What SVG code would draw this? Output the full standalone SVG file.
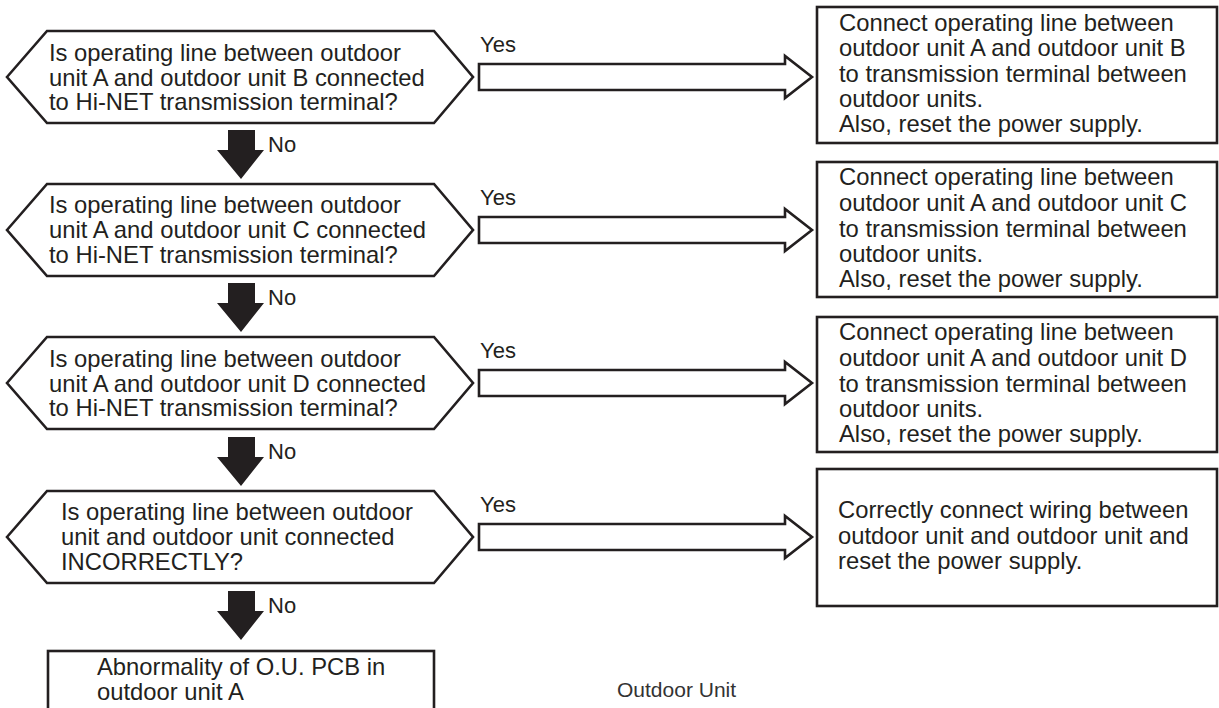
<svg xmlns="http://www.w3.org/2000/svg" width="1219" height="708" viewBox="0 0 1219 708">
  <style>
    .shape { fill: #ffffff; stroke: #231f20; stroke-width: 2.6; stroke-linejoin: miter; }
    .down { fill: #231f20; stroke: none; }
    .t { font-family: "Liberation Sans", Arial, sans-serif; font-size: 23.8px; fill: #231f20; }
    .lbl { font-family: "Liberation Sans", Arial, sans-serif; font-size: 22px; fill: #231f20; }
    .cap { font-family: "Liberation Sans", Arial, sans-serif; font-size: 21px; fill: #333333; }
  </style>
  <defs>
    <!-- decision hexagon centred on y = 0 -->
    <polygon id="hex" points="7,0 47,-46 434,-46 473,0 434,46 47,46"/>
    <!-- hollow "Yes" arrow centred on y = 0 -->
    <polygon id="yesArrow" points="479,-13 785,-13 785,-21 812,0 785,21 785,13 479,13"/>
    <!-- solid "No" arrow starting at y = 0 -->
    <polygon id="noArrow" points="228,0 255,0 255,20 264,20 241,49 217,20 228,20"/>
  </defs>

  <rect width="1219" height="708" fill="#ffffff"/>

  <!-- connectors -->
  <g id="connectors">
    <use href="#yesArrow" class="shape" y="77"/>
    <use href="#yesArrow" class="shape" y="230"/>
    <use href="#yesArrow" class="shape" y="383"/>
    <use href="#yesArrow" class="shape" y="537"/>
    <text class="lbl" x="480" y="52">Yes</text>
    <text class="lbl" x="480" y="205">Yes</text>
    <text class="lbl" x="480" y="358">Yes</text>
    <text class="lbl" x="480" y="512">Yes</text>

    <use href="#noArrow" class="down" y="130"/>
    <use href="#noArrow" class="down" y="283"/>
    <use href="#noArrow" class="down" y="437"/>
    <use href="#noArrow" class="down" y="591"/>
    <text class="lbl" x="268" y="152">No</text>
    <text class="lbl" x="268" y="305">No</text>
    <text class="lbl" x="268" y="459">No</text>
    <text class="lbl" x="268" y="613">No</text>
  </g>

  <!-- decisions -->
  <g id="q1">
    <use href="#hex" class="shape" y="77"/>
    <text class="t" x="49" y="61">Is operating line between outdoor</text>
    <text class="t" x="49" y="85.5">unit A and outdoor unit B connected</text>
    <text class="t" x="49" y="110">to Hi-NET transmission terminal?</text>
  </g>
  <g id="q2">
    <use href="#hex" class="shape" y="230"/>
    <text class="t" x="49" y="213">Is operating line between outdoor</text>
    <text class="t" x="49" y="238">unit A and outdoor unit C connected</text>
    <text class="t" x="49" y="263">to Hi-NET transmission terminal?</text>
  </g>
  <g id="q3">
    <use href="#hex" class="shape" y="383"/>
    <text class="t" x="49" y="367">Is operating line between outdoor</text>
    <text class="t" x="49" y="391.5">unit A and outdoor unit D connected</text>
    <text class="t" x="49" y="416">to Hi-NET transmission terminal?</text>
  </g>
  <g id="q4">
    <use href="#hex" class="shape" y="537"/>
    <text class="t" x="61" y="520">Is operating line between outdoor</text>
    <text class="t" x="61" y="545">unit and outdoor unit connected</text>
    <text class="t" x="61" y="570">INCORRECTLY?</text>
  </g>

  <!-- actions -->
  <g id="a1">
    <rect class="shape" x="817" y="7" width="400" height="136"/>
    <text class="t" x="839" y="31">Connect operating line between</text>
    <text class="t" x="839" y="56">outdoor unit A and outdoor unit B</text>
    <text class="t" x="839" y="82">to transmission terminal between</text>
    <text class="t" x="839" y="107">outdoor units.</text>
    <text class="t" x="839" y="132">Also, reset the power supply.</text>
  </g>
  <g id="a2">
    <rect class="shape" x="817" y="162" width="400" height="135"/>
    <text class="t" x="839" y="185">Connect operating line between</text>
    <text class="t" x="839" y="211">outdoor unit A and outdoor unit C</text>
    <text class="t" x="839" y="237">to transmission terminal between</text>
    <text class="t" x="839" y="262">outdoor units.</text>
    <text class="t" x="839" y="287">Also, reset the power supply.</text>
  </g>
  <g id="a3">
    <rect class="shape" x="817" y="317" width="400" height="135"/>
    <text class="t" x="839" y="340">Connect operating line between</text>
    <text class="t" x="839" y="366">outdoor unit A and outdoor unit D</text>
    <text class="t" x="839" y="392">to transmission terminal between</text>
    <text class="t" x="839" y="417">outdoor units.</text>
    <text class="t" x="839" y="442">Also, reset the power supply.</text>
  </g>
  <g id="a4">
    <rect class="shape" x="817" y="469" width="400" height="137"/>
    <text class="t" x="838" y="518">Correctly connect wiring between</text>
    <text class="t" x="838" y="543.5">outdoor unit and outdoor unit and</text>
    <text class="t" x="838" y="569">reset the power supply.</text>
  </g>
  <g id="result">
    <rect class="shape" x="48" y="651" width="386" height="70"/>
    <text class="t" x="97" y="675">Abnormality of O.U. PCB in</text>
    <text class="t" x="97" y="700">outdoor unit A</text>
  </g>

  <g id="caption">
    <text class="cap" x="617" y="697">Outdoor Unit</text>
  </g>
</svg>
